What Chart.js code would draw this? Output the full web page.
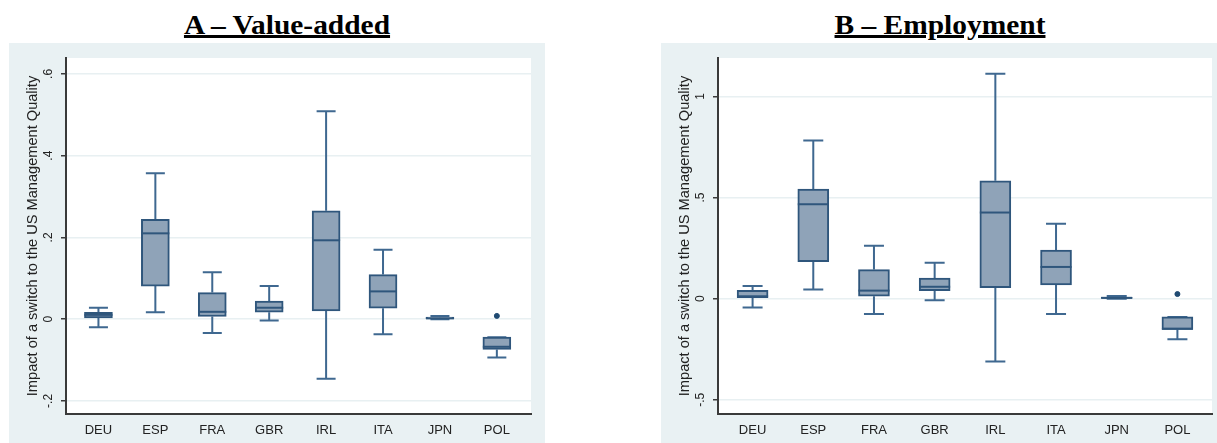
<!DOCTYPE html>
<html>
<head>
<meta charset="utf-8">
<script src="https://cdn.jsdelivr.net/npm/chart.js@4"></script>
<style>
    body { margin: 0; width: 1217px; height: 443px; background: #ffffff; overflow: hidden; position: relative; }
    .titulo { position: absolute; top: 9px; font-family: "Liberation Serif", serif; font-weight: bold; font-size: 27px;
        color: #000; text-decoration: underline; text-decoration-thickness: 3px; text-underline-offset: 1px;
        transform: translateX(-50%) scaleX(1.09); white-space: nowrap; line-height: 32px; }
    .painel { position: absolute; top: 43px; height: 400px; }
</style>
</head>
<body>
<div class="titulo" style="left: 287px;">A – Value-added</div>
<div class="titulo" style="left: 940px;">B – Employment</div>
<div class="painel" style="left: 9px; width: 536px;"><canvas id="chartA"></canvas></div>
<div class="painel" style="left: 661px; width: 556px;"><canvas id="chartB"></canvas></div>
<script>
var paises = ['DEU', 'ESP', 'FRA', 'GBR', 'IRL', 'ITA', 'JPN', 'POL'];
var yTitulo = 'Impact of a switch to the US Management Quality';

// A - Value-added
var vaMin = [-0.020, 0.017, -0.034, -0.003, -0.146, -0.037, 0.000, -0.094];
var vaQ1 = [0.003, 0.081, 0.0065, 0.017, 0.020, 0.027, 0.001, -0.074];
var vaMed = [0.0105, 0.210, 0.018, 0.028, 0.193, 0.068, 0.002, -0.0675];
var vaQ3 = [0.017, 0.244, 0.065, 0.044, 0.265, 0.109, 0.005, -0.044];
var vaMax = [0.028, 0.357, 0.115, 0.081, 0.509, 0.170, 0.008, -0.044];
var vaOutlier = [null, null, null, null, null, null, null, 0.008];
var vaTicks = [-0.2, 0, 0.2, 0.4, 0.6];

// B - Employment
var emMin = [-0.043, 0.046, -0.076, -0.008, -0.310, -0.076, 0.000, -0.200];
var emQ1 = [0.005, 0.183, 0.012, 0.040, 0.054, 0.068, 0.002, -0.152];
var emMed = [0.012, 0.467, 0.040, 0.059, 0.426, 0.157, 0.004, -0.149];
var emQ3 = [0.041, 0.542, 0.144, 0.102, 0.583, 0.240, 0.008, -0.090];
var emMax = [0.063, 0.782, 0.262, 0.178, 1.112, 0.371, 0.013, -0.090];
var emOutlier = [null, null, null, null, null, null, null, 0.023];
var emTicks = [-0.5, 0, 0.5, 1];

var corCaixa = '#8fa3b8';
var corLinha = '#2f567c';

function rotulo(v) {
    // estilo Stata: .2, -.2, 0, 1
    var s = String(Math.round(v * 100) / 100);
    return s.replace('0.', '.');
}

// fundo azul claro + area do grafico branca
var fundo = {
    id: 'fundo',
    beforeDraw: function (chart) {
        var ctx = chart.ctx, a = chart.chartArea;
        ctx.save();
        ctx.fillStyle = '#e9f1f3';
        ctx.fillRect(0, 0, chart.width, chart.height);
        ctx.fillStyle = '#ffffff';
        ctx.fillRect(a.left, a.top, a.right - a.left, a.bottom - a.top);
        ctx.restore();
    }
};

// bigodes, tampas e medianas
var bigodes = {
    id: 'bigodes',
    beforeDatasetsDraw: function (chart, args, opts) {
        var ctx = chart.ctx, x = chart.scales.x, y = chart.scales.y;
        ctx.save();
        ctx.strokeStyle = '#3f6890';
        ctx.lineWidth = 2;
        for (var i = 0; i < paises.length; i++) {
            var px = x.getPixelForValue(i);
            ctx.beginPath();
            ctx.moveTo(px, y.getPixelForValue(opts.max[i]));
            ctx.lineTo(px, y.getPixelForValue(opts.q3[i]));
            ctx.moveTo(px, y.getPixelForValue(opts.q1[i]));
            ctx.lineTo(px, y.getPixelForValue(opts.min[i]));
            ctx.moveTo(px - opts.tampa / 2, y.getPixelForValue(opts.max[i]));
            ctx.lineTo(px + opts.tampa / 2, y.getPixelForValue(opts.max[i]));
            ctx.moveTo(px - opts.tampa / 2, y.getPixelForValue(opts.min[i]));
            ctx.lineTo(px + opts.tampa / 2, y.getPixelForValue(opts.min[i]));
            ctx.stroke();
        }
        ctx.restore();
    },
    afterDatasetsDraw: function (chart, args, opts) {
        var ctx = chart.ctx, x = chart.scales.x, y = chart.scales.y;
        ctx.save();
        ctx.strokeStyle = corLinha;
        ctx.lineWidth = 2;
        for (var i = 0; i < paises.length; i++) {
            var px = x.getPixelForValue(i);
            var py = y.getPixelForValue(opts.med[i]);
            ctx.beginPath();
            ctx.moveTo(px - opts.caixa / 2, py);
            ctx.lineTo(px + opts.caixa / 2, py);
            ctx.stroke();
        }
        ctx.restore();
    }
};

function criar_grafico(id, min, q1, med, q3, max, outlier, ticks, yMin, yMax, xMax, dirPad, caixa, tampa) {
    var caixas = [];
    var pontos = [];
    for (var i = 0; i < paises.length; i++) {
        caixas.push({ x: i, y: [q1[i], q3[i]] });
        if (outlier[i] != null) pontos.push({ x: i, y: outlier[i] });
    }

    new Chart(document.getElementById(id), {
        data: {
            datasets: [{
                type: 'bar',
                data: caixas,
                backgroundColor: corCaixa,
                borderColor: corLinha,
                borderWidth: 2,
                borderSkipped: false,
                barThickness: caixa,
                order: 2
            }, {
                type: 'scatter',
                data: pontos,
                backgroundColor: '#1f4a72',
                borderColor: '#1f4a72',
                pointRadius: 2.5,
                order: 1
            }]
        },
        options: {
            responsive: true,
            maintainAspectRatio: false,
            animation: false,
            layout: { padding: { left: 0, top: 15, right: dirPad, bottom: 0 } },
            plugins: {
                legend: { display: false },
                tooltip: { enabled: false },
                bigodes: { min: min, q1: q1, med: med, q3: q3, max: max, caixa: caixa, tampa: tampa }
            },
            scales: {
                x: {
                    type: 'linear',
                    offset: false,
                    min: -0.57,
                    max: xMax,
                    afterBuildTicks: function (scale) {
                        scale.ticks = paises.map(function (p, i) { return { value: i }; });
                    },
                    afterFit: function (scale) { scale.height = 29; },
                    grid: { display: false, drawTicks: false },
                    border: { color: '#3a3a3a', width: 2 },
                    ticks: {
                        padding: 9,
                        color: '#222',
                        font: { family: 'Liberation Sans', size: 13 },
                        callback: function (v) { return paises[v]; }
                    }
                },
                y: {
                    min: yMin,
                    max: yMax,
                    afterBuildTicks: function (scale) {
                        scale.ticks = ticks.map(function (v) { return { value: v }; });
                    },
                    afterFit: function (scale) { scale.width = 57; },
                    grid: { color: '#e8f0f2', lineWidth: 1.5, tickColor: '#3a3a3a', tickLength: 5 },
                    border: { color: '#3a3a3a', width: 2 },
                    ticks: {
                        minRotation: 90,
                        maxRotation: 90,
                        crossAlign: 'center',
                        padding: 5,
                        color: '#222',
                        font: { family: 'Liberation Sans', size: 12 },
                        callback: function (v) { return rotulo(v); }
                    },
                    title: {
                        display: true,
                        text: yTitulo,
                        color: '#222',
                        padding: { top: 15, bottom: 0 },
                        font: { family: 'Liberation Sans', size: 14.6 }
                    }
                }
            }
        },
        plugins: [fundo, bigodes]
    });
}

criar_grafico('chartA', vaMin, vaQ1, vaMed, vaQ3, vaMax, vaOutlier, vaTicks, -0.232, 0.639, 7.6, 14, 28, 19);
criar_grafico('chartB', emMin, emQ1, emMed, emQ3, emMax, emOutlier, emTicks, -0.57, 1.19, 7.57, 2, 31, 20);
</script>
</body>
</html>
